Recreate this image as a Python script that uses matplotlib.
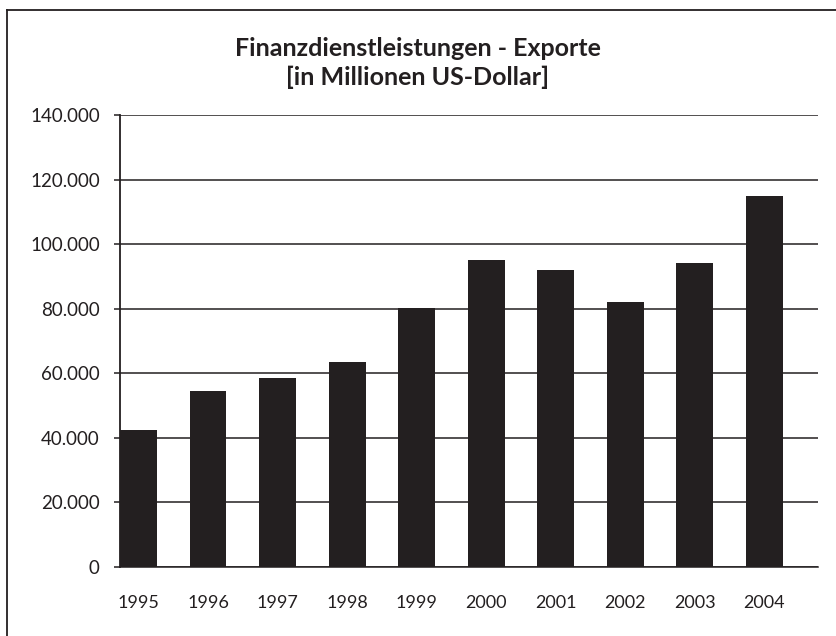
import matplotlib
matplotlib.use("Agg")
import matplotlib.pyplot as plt
from matplotlib.lines import Line2D
from matplotlib.ticker import FuncFormatter

years = ["1995", "1996", "1997", "1998", "1999", "2000", "2001", "2002", "2003", "2004"]
exports = [42400, 54500, 58400, 63600, 80200, 95000, 92000, 82000, 94100, 114900]
y_ticks = [0, 20000, 40000, 60000, 80000, 100000, 120000, 140000]
title = "Finanzdienstleistungen - Exporte\n[in Millionen US-Dollar]"

plt.rcParams['font.family'] = ['Lato', 'DejaVu Sans']

fig = plt.figure(figsize=(8.36, 6.36), dpi=100)
W, H = 836, 636
ax = fig.add_axes([120 / W, 1 - 567 / H, (818 - 120) / W, (567 - 115) / H])

x = list(range(len(years)))
ax.bar(x, exports, width=0.53, color="#231f20", zorder=3)

ax.set_ylim(0, 140000)
ax.set_xlim(-0.266, 9.77)
ax.set_yticks(y_ticks)
ax.yaxis.set_major_formatter(FuncFormatter(lambda v, p: "0" if v == 0 else f"{int(v):,}".replace(",", ".")))
ax.set_xticks(x)
ax.set_xticklabels(years)
ax.grid(axis="y", color="#231f20", linewidth=1.1, zorder=1)
for s in ["top", "right"]:
    ax.spines[s].set_visible(False)
ax.spines["left"].set_color("#231f20")
ax.spines["left"].set_linewidth(1.3)
ax.spines["bottom"].set_color("#231f20")
ax.spines["bottom"].set_linewidth(1.1)
ax.tick_params(axis="y", direction="out", length=4.5, width=1.1, color="#231f20",
               labelsize=13.5, pad=10, labelcolor="#231f20")
ax.tick_params(axis="x", length=0, labelsize=13, pad=20, labelcolor="#231f20")

fig.text(0.5, 1 - 63 / H, title, ha="center", va="center", fontsize=18,
         fontweight="bold", color="#231f20", linespacing=1.3)

# frame lines (left and top edges of the outer border)
fig.add_artist(Line2D([7 / W, 7 / W], [0, 1 - 10 / H], transform=fig.transFigure,
                      color="#231f20", linewidth=1.3))
fig.add_artist(Line2D([7 / W, 1], [1 - 10 / H, 1 - 10 / H], transform=fig.transFigure,
                      color="#231f20", linewidth=1.3))

fig.savefig("out.png", dpi=100)
